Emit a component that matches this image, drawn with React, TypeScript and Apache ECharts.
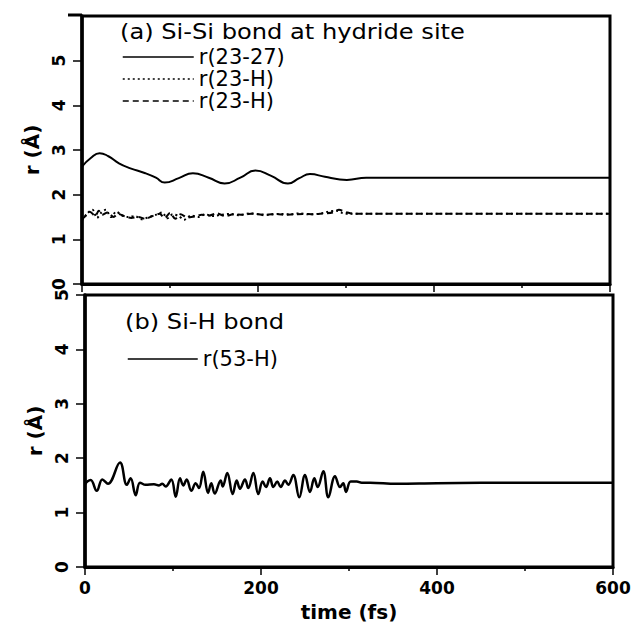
import React, { useEffect, useRef } from "react";
import * as echarts from "echarts";

// ---- Data ----
// Panel (a): Si-Si bond r(23-27)
const tA_SiSi = [0, 10, 20, 30, 42, 55, 72, 84, 94, 110, 126, 144, 162, 180, 197, 215, 234, 247, 259, 276, 293, 301, 323, 360, 450, 600];
const rA_SiSi = [2.63, 2.82, 2.93, 2.86, 2.70, 2.59, 2.48, 2.38, 2.27, 2.37, 2.48, 2.38, 2.25, 2.38, 2.54, 2.42, 2.25, 2.37, 2.46, 2.40, 2.34, 2.33, 2.38, 2.38, 2.38, 2.38];

// Panel (a): r(23-H), dotted
const tA_H1 = [0, 6, 12, 17, 22, 27, 33, 39, 45, 52, 60, 68, 76, 84, 91, 97, 103, 110, 116, 124, 132, 140, 149, 158, 168, 178, 190, 201, 212, 224, 236, 247, 258, 269, 280, 289, 296, 305, 320, 400, 500, 600];
const rA_H1 = [1.42, 1.58, 1.66, 1.48, 1.60, 1.66, 1.50, 1.62, 1.54, 1.50, 1.52, 1.45, 1.50, 1.55, 1.60, 1.47, 1.56, 1.52, 1.44, 1.53, 1.50, 1.56, 1.52, 1.55, 1.57, 1.54, 1.58, 1.56, 1.55, 1.57, 1.56, 1.58, 1.56, 1.57, 1.62, 1.64, 1.59, 1.57, 1.57, 1.57, 1.57, 1.57];

// Panel (a): r(23-H), dashed
const tA_H2 = [0, 4, 9, 15, 19, 23, 29, 36, 41, 48, 56, 64, 72, 80, 88, 94, 100, 106, 112, 120, 128, 136, 144, 153, 163, 172, 183, 195, 207, 218, 229, 241, 252, 263, 274, 285, 292, 300, 310, 330, 400, 500, 600];
const rA_H2 = [1.45, 1.52, 1.62, 1.52, 1.64, 1.55, 1.60, 1.50, 1.57, 1.52, 1.48, 1.50, 1.46, 1.52, 1.57, 1.48, 1.59, 1.46, 1.56, 1.49, 1.51, 1.55, 1.53, 1.58, 1.52, 1.56, 1.55, 1.58, 1.54, 1.57, 1.55, 1.56, 1.57, 1.56, 1.58, 1.60, 1.66, 1.61, 1.57, 1.57, 1.57, 1.57, 1.57];

// Panel (b): Si-H bond r(53-H)
const tB = [0, 2.6, 6.5, 13.3, 19.7, 26.1, 39.8, 47.4, 51.9, 57.6, 62.5, 69, 78.4, 84.1, 87.8, 91.7, 98.1, 103.1, 108, 111.7, 115.6, 120.8, 125.8, 129.5, 134.4, 139.8, 143.5, 147.4, 154.2, 156.5, 161.7, 167.8, 172.4, 176.1, 181.8, 185.6, 191.3, 196.9, 201.9, 205.7, 210.2, 214, 218.5, 222.4, 227.3, 231, 236.7, 243.5, 250, 255.7, 260.6, 264.4, 270.8, 276.5, 284.1, 289.8, 293.5, 296.6, 301.9, 308.8, 314.4, 323.9, 354, 400, 500, 600];
const rB = [1.52, 1.57, 1.60, 1.40, 1.61, 1.53, 1.92, 1.51, 1.63, 1.32, 1.55, 1.51, 1.52, 1.50, 1.53, 1.48, 1.61, 1.29, 1.63, 1.50, 1.61, 1.40, 1.54, 1.45, 1.75, 1.36, 1.54, 1.35, 1.59, 1.48, 1.73, 1.34, 1.59, 1.44, 1.61, 1.45, 1.73, 1.34, 1.57, 1.47, 1.63, 1.47, 1.57, 1.47, 1.59, 1.51, 1.69, 1.28, 1.69, 1.38, 1.63, 1.47, 1.76, 1.28, 1.67, 1.47, 1.54, 1.38, 1.57, 1.57, 1.55, 1.55, 1.53, 1.54, 1.55, 1.55];

const xTicks = [0, 200, 400, 600];
const titleA = "(a) Si-Si bond at hydride site";
const titleB = "(b) Si-H bond";
const legendLabels: Record<string, string> = {
  "r(23-27)": "r(23-27)",
  "r(23-H) dotted": "r(23-H)",
  "r(23-H) dashed": "r(23-H)",
  "r(53-H)": "r(53-H)",
};

const zip = (t: number[], v: number[]) => t.map((x, i) => [x, v[i]]);
const FONT = "DejaVu Sans";

export default function App() {
  const ref = useRef<HTMLDivElement>(null);
  useEffect(() => {
    if (!ref.current) return;
    const chart = echarts.init(ref.current, undefined, { renderer: "svg" });

    const xAxisBase = (gi: number, showLabel: boolean) => ({
      type: "value",
      gridIndex: gi,
      min: 0,
      max: 600,
      interval: 200,
      axisLine: { show: true, onZero: false, lineStyle: { color: "#000", width: 3 } },
      axisTick: { show: true, inside: false, length: 8, lineStyle: { color: "#000", width: 1.5 } },
      minorTick: { show: true, splitNumber: 2, length: 4, lineStyle: { color: "#000", width: 1.5 } },
      splitLine: { show: false },
      axisLabel: {
        show: showLabel,
        color: "#000",
        fontFamily: FONT,
        fontWeight: "bold",
        fontSize: 17,
        margin: 12,
        formatter: (v: number) => (xTicks.includes(v) ? String(v) : ""),
      },
    });

    const yAxisBase = (gi: number, max: number, showMax: boolean) => ({
      type: "value",
      gridIndex: gi,
      min: 0,
      max,
      interval: 1,
      name: "r (Å)",
      nameLocation: "middle",
      nameRotate: 90,
      nameGap: 38,
      nameTextStyle: { color: "#000", fontFamily: FONT, fontWeight: "bold", fontSize: 20 },
      axisLine: { show: true, onZero: false, lineStyle: { color: "#000", width: 3.5 } },
      axisTick: { show: true, inside: false, length: 9, lineStyle: { color: "#000", width: 1.5 } },
      splitLine: { show: false },
      axisLabel: {
        show: true,
        rotate: 90,
        color: "#000",
        fontFamily: FONT,
        fontWeight: "bold",
        fontSize: 17,
        margin: 15,
        showMaxLabel: showMax,
      },
    });

    const lineSeries = (name: string, xi: number, data: number[][], type: any, width: number, smooth: number) => ({
      name,
      type: "line",
      xAxisIndex: xi,
      yAxisIndex: xi,
      data,
      symbol: "none",
      smooth,
      lineStyle: { color: "#000", width, type },
      itemStyle: { color: "#000" },
      emphasis: { disabled: true },
    });

    const legendText = {
      color: "#000",
      fontFamily: FONT,
      fontSize: 21,
      lineHeight: 22,
    };
    const hiddenSymbol = { color: "rgba(0,0,0,0)", borderColor: "rgba(0,0,0,0)", borderWidth: 0 };

    chart.setOption({
      animation: false,
      backgroundColor: "#fff",
      grid: [
        { left: 82, right: 26, top: 16, bottom: 339, show: true, borderColor: "#000", borderWidth: 3 },
        { left: 85, right: 23, top: 295, bottom: 56, show: true, borderColor: "#000", borderWidth: 3 },
      ],
      xAxis: [
        xAxisBase(0, false),
        {
          ...xAxisBase(1, true),
          name: "time (fs)",
          nameLocation: "middle",
          nameGap: 35,
          nameTextStyle: { color: "#000", fontFamily: FONT, fontWeight: "bold", fontSize: 20 },
        },
      ],
      yAxis: [yAxisBase(0, 6, false), yAxisBase(1, 5, true)],
      legend: [
        {
          data: ["r(23-27)", "r(23-H) dotted", "r(23-H) dashed"],
          orient: "vertical",
          left: 122,
          top: 46,
          itemWidth: 71,
          itemHeight: 12,
          itemGap: 0,
          padding: 0,
          selectedMode: false,
          itemStyle: hiddenSymbol,
          lineStyle: { width: 1.5 },
          formatter: (n: string) => legendLabels[n],
          textStyle: legendText,
        },
        {
          data: ["r(53-H)"],
          orient: "vertical",
          left: 127,
          top: 348,
          itemWidth: 70,
          itemHeight: 12,
          itemGap: 0,
          padding: 0,
          selectedMode: false,
          itemStyle: hiddenSymbol,
          lineStyle: { width: 1.5 },
          formatter: (n: string) => legendLabels[n],
          textStyle: legendText,
        },
      ],
      graphic: [
        {
          type: "text",
          x: 120,
          y: 32,
          scaleX: 1.15,
          style: { text: titleA, fontFamily: FONT, fontSize: 21, fill: "#000", verticalAlign: "middle", align: "left" },
        },
        {
          type: "text",
          x: 125,
          y: 322,
          scaleX: 1.15,
          style: { text: titleB, fontFamily: FONT, fontSize: 21, fill: "#000", verticalAlign: "middle", align: "left" },
        },
        {
          type: "line",
          shape: { x1: 68, y1: 15, x2: 82, y2: 15 },
          style: { stroke: "#000", lineWidth: 3 },
        },
      ],
      series: [
        lineSeries("r(23-27)", 0, zip(tA_SiSi, rA_SiSi), "solid", 2, 0.5),
        lineSeries("r(23-H) dotted", 0, zip(tA_H1, rA_H1), [2, 3], 2, 0.3),
        lineSeries("r(23-H) dashed", 0, zip(tA_H2, rA_H2), [6, 4], 2, 0.3),
        lineSeries("r(53-H)", 1, zip(tB, rB), "solid", 2.5, 0.4),
      ],
    });
    return () => chart.dispose();
  }, []);
  return <div ref={ref} style={{ position: "fixed", left: 0, top: 0, width: 636, height: 623, background: "#fff" }} />;
}
